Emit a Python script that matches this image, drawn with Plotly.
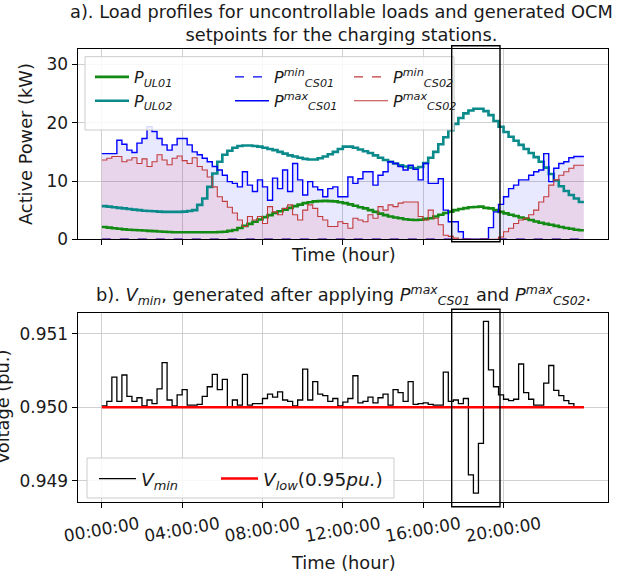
import plotly.graph_objects as go

# ---------------- data (15-min resolution, 96 steps) ----------------
STEP_H = 0.25
P_UL01 = [2.1, 2.0, 1.9, 1.8, 1.7, 1.65, 1.6, 1.55, 1.5, 1.45, 1.4, 1.35,
          1.3, 1.25, 1.2, 1.2, 1.2, 1.2, 1.2, 1.2, 1.2, 1.2, 1.2, 1.25,
          1.3, 1.45, 1.6, 1.95, 2.3, 2.65, 3.0, 3.4, 3.8, 4.15, 4.5, 4.8,
          5.1, 5.4, 5.7, 5.95, 6.2, 6.35, 6.5, 6.55, 6.6, 6.55, 6.5, 6.35,
          6.2, 6.0, 5.75, 5.5, 5.3, 5.0, 4.7, 4.4, 4.15, 3.9, 3.75, 3.6,
          3.45, 3.35, 3.3, 3.35, 3.5, 3.6, 3.9, 4.2, 4.5, 4.75, 5.0, 5.2,
          5.35, 5.5, 5.55, 5.6, 5.4, 5.3, 5.0, 4.7, 4.45, 4.2, 4.0, 3.75,
          3.55, 3.3, 3.05, 2.85, 2.65, 2.5, 2.3, 2.1, 1.95, 1.8, 1.65, 1.55]
P_UL02 = [5.7, 5.6, 5.5, 5.4, 5.3, 5.2, 5.1, 5.0, 4.9, 4.85, 4.8, 4.75,
          4.7, 4.7, 4.7, 4.7, 4.75, 4.85, 5.0, 5.9, 7.0, 9.0, 11.3, 13.3,
          14.5, 15.2, 15.7, 16.0, 16.1, 16.1, 16.0, 15.9, 15.7, 15.5, 15.3, 15.0,
          14.7, 14.4, 14.2, 14.0, 13.8, 13.7, 13.7, 13.9, 14.2, 14.6, 15.0, 15.5,
          15.9, 15.9, 15.7, 15.4, 15.1, 14.8, 14.4, 14.0, 13.6, 13.3, 13.0, 12.7,
          12.5, 12.3, 12.2, 12.4, 13.1, 14.0, 15.0, 16.3, 17.5, 18.7, 19.8, 20.8,
          21.6, 22.1, 22.4, 22.4, 22.0, 21.3, 20.3, 19.3, 18.4, 17.6, 16.9, 16.2,
          15.5, 14.8, 14.1, 13.3, 12.3, 11.2, 10.1, 9.1, 8.3, 7.6, 7.0, 6.4]
P_CS01_MAX = [14.7, 14.7, 14.7, 17.0, 16.3, 15.3, 14.9, 16.5, 17.3, 19.3, 18.5, 17.3,
              16.2, 15.3, 16.2, 17.3, 17.3, 16.2, 15.0, 14.5, 13.9, 13.3, 12.5, 11.9,
              11.0, 9.9, 9.6, 9.0, 11.6, 9.3, 8.2, 10.2, 9.0, 6.7, 10.5, 8.7,
              11.9, 8.2, 13.0, 10.2, 7.6, 9.9, 9.0, 8.5, 7.3, 8.7, 9.0, 7.3,
              7.3, 10.7, 9.6, 10.4, 11.6, 11.6, 9.3, 11.0, 11.6, 13.3, 13.0, 12.5,
              11.9, 12.7, 12.0, 10.2, 13.0, 9.6, 9.6, 10.4, 5.0, 3.0, 3.0, 1.3,
              0.0, 0.0, 0.0, 0.0, 0.0, 2.0, 4.7, 6.0, 7.3, 8.7, 9.3, 10.2,
              10.2, 11.0, 11.6, 11.9, 14.7, 9.9, 12.2, 13.0, 13.3, 14.0, 14.2, 14.2]
P_CS02_MAX = [13.6, 13.9, 14.2, 14.2, 13.3, 13.6, 14.0, 13.0, 13.8, 12.5, 13.3, 14.5,
              13.6, 12.8, 13.9, 14.3, 13.5, 13.0, 14.0, 12.5, 11.9, 10.7, 9.0, 7.3,
              6.5, 5.5, 4.5, 3.3, 2.2, 3.9, 3.3, 3.9, 2.7, 5.6, 4.7, 4.2,
              5.3, 5.9, 4.2, 3.3, 5.0, 5.9, 5.3, 3.9, 3.3, 2.2, 2.2, 3.0,
              2.7, 1.9, 3.6, 3.3, 3.0, 4.2, 3.6, 5.6, 5.0, 5.9, 5.6, 6.2,
              6.4, 6.4, 6.4, 3.9, 3.3, 5.0, 3.6, 2.5, 0.7, 0.5, 0.2, 0.0,
              0.0, 0.0, 0.0, 0.0, 0.0, 0.0, 0.0, 0.4, 1.3, 1.9, 2.7, 3.3,
              3.6, 4.2, 5.0, 6.4, 7.3, 9.3, 10.2, 11.0, 11.6, 12.2, 12.7, 12.7]
P_CS01_MIN = [0.0] * 96   # minimum set-points read as zero over the whole day
P_CS02_MIN = [0.0] * 96
V_MIN = [0.95002, 0.95008, 0.95041, 0.95008, 0.95044, 0.95015, 0.95008, 0.95013,
         0.95002, 0.95010, 0.95005, 0.95025, 0.95061, 0.95010, 0.95002, 0.95017,
         0.95024, 0.95003, 0.95003, 0.95004, 0.95015, 0.95028, 0.95045, 0.95024,
         0.95038, 0.95000, 0.95010, 0.95003, 0.95045, 0.95003, 0.95005, 0.95005,
         0.95012, 0.95018, 0.95014, 0.95021, 0.95010, 0.95008, 0.95002, 0.95010,
         0.95052, 0.95010, 0.95035, 0.95018, 0.95016, 0.95008, 0.95012, 0.95002,
         0.95007, 0.95012, 0.95043, 0.95006, 0.95008, 0.95014, 0.95006, 0.95013,
         0.95018, 0.95003, 0.95024, 0.95020, 0.95008, 0.95035, 0.95004, 0.95005,
         0.95006, 0.95004, 0.95003, 0.95003, 0.95048, 0.95008, 0.95010, 0.95005,
         0.95012, 0.94908, 0.94883, 0.94951, 0.95117, 0.95051, 0.95028, 0.95017,
         0.95011, 0.95009, 0.95011, 0.95059, 0.95020, 0.95011, 0.95003, 0.95003,
         0.95033, 0.95057, 0.95023, 0.95016, 0.95009, 0.95005, 0.95001, 0.95000]
V_LOW = 0.95
DAY_END_H = 24.0
TICK_HOURS = [0, 4, 8, 12, 16, 20]
TICK_LABELS = ["00:00:00", "04:00:00", "08:00:00", "12:00:00", "16:00:00", "20:00:00"]
P_TICKS = [0, 10, 20, 30]
V_TICKS = [0.949, 0.950, 0.951]

for s in (P_UL01, P_UL02, P_CS01_MAX, P_CS02_MAX, V_MIN):
    assert len(s) == 96

# step series: x at start of each 15-min interval, extended to end of day
X = [i * STEP_H for i in range(len(V_MIN))] + [DAY_END_H]
def ext(v):
    return list(v) + [v[-1]]

# ---------------- layout helpers (pixel -> paper) ----------------
W, H = 633, 575
def px(p):
    return p / W
def py(p):
    return 1 - p / H

FONT = "DejaVu Sans"
TXT = "#1a1a1a"
FS = 17.8      # titles / labels
FT = 17        # tick labels
FL = 16        # top legend
FL2 = 18.5     # bottom legend

fig = go.Figure()

# fills under the max set-points
fig.add_trace(go.Scatter(x=X, y=ext(P_CS01_MAX), mode="lines", line=dict(width=0, shape="hv"),
                         fill="tozeroy", fillcolor="rgba(0,0,255,0.09)", showlegend=False,
                         hoverinfo="skip", xaxis="x", yaxis="y"))
fig.add_trace(go.Scatter(x=X, y=ext(P_CS02_MAX), mode="lines", line=dict(width=0, shape="hv"),
                         fill="tozeroy", fillcolor="rgba(255,0,0,0.08)", showlegend=False,
                         hoverinfo="skip", xaxis="x", yaxis="y"))

# legend column 1
fig.add_trace(go.Scatter(x=X, y=ext(P_UL01), mode="lines", line=dict(color="#138a13", width=2.6, shape="hv"),
                         name="<i>P</i><sub><i>UL01</i></sub>", legend="legend", xaxis="x", yaxis="y"))
fig.add_trace(go.Scatter(x=X, y=ext(P_UL02), mode="lines", line=dict(color="#0a8a8a", width=2.6, shape="hv"),
                         name="<i>P</i><sub><i>UL02</i></sub>", legend="legend", xaxis="x", yaxis="y"))
# legend column 2
fig.add_trace(go.Scatter(x=X, y=ext(P_CS01_MIN), mode="lines",
                         line=dict(color="#0000ff", width=1.4, dash="dash", shape="hv"),
                         name="<i>P</i><sup><i>min</i></sup><sub><i>CS01</i></sub>", legend="legend2",
                         xaxis="x", yaxis="y"))
fig.add_trace(go.Scatter(x=X, y=ext(P_CS01_MAX), mode="lines", line=dict(color="#0000ff", width=1.4, shape="hv"),
                         name="<i>P</i><sup><i>max</i></sup><sub><i>CS01</i></sub>", legend="legend2",
                         xaxis="x", yaxis="y"))
# legend column 3
fig.add_trace(go.Scatter(x=X, y=ext(P_CS02_MIN), mode="lines",
                         line=dict(color="#c23b3b", width=1.1, dash="dash", shape="hv"),
                         name="<i>P</i><sup><i>min</i></sup><sub><i>CS02</i></sub>", legend="legend3",
                         xaxis="x", yaxis="y"))
fig.add_trace(go.Scatter(x=X, y=ext(P_CS02_MAX), mode="lines", line=dict(color="#c23b3b", width=1.1, shape="hv"),
                         name="<i>P</i><sup><i>max</i></sup><sub><i>CS02</i></sub>", legend="legend3",
                         xaxis="x", yaxis="y"))

# bottom panel
fig.add_trace(go.Scatter(x=X, y=ext(V_MIN), mode="lines", line=dict(color="black", width=1.3, shape="hv"),
                         name="<i>V</i><sub><i>min</i></sub>", legend="legend4", xaxis="x2", yaxis="y2"))
fig.add_trace(go.Scatter(x=[0, DAY_END_H], y=[V_LOW, V_LOW], mode="lines", line=dict(color="#ff0000", width=2.6),
                         name="<i>V</i><sub><i>low</i></sub>(0.95<i>pu.</i>)", legend="legend5",
                         xaxis="x2", yaxis="y2"))

XDOM = [px(77.7), px(608)]
axis_common = dict(showline=True, mirror=True, linecolor="black", linewidth=1.2,
                   ticks="outside", ticklen=5, tickwidth=1, tickcolor="black",
                   showgrid=True, gridcolor="#d0d0d0", gridwidth=1, zeroline=False,
                   automargin=False,
                   tickfont=dict(family=FONT, size=FT, color=TXT))

def leg(x, y, size, w):
    return dict(x=px(x), y=py(y), bgcolor="rgba(0,0,0,0)", borderwidth=0, xanchor="left", yanchor="top",
                font=dict(family=FONT, size=size, color=TXT), itemwidth=w, tracegroupgap=0)

fig.update_layout(
    width=W, height=H, margin=dict(l=0, r=0, t=0, b=0, autoexpand=False),
    paper_bgcolor="white", plot_bgcolor="white",
    font=dict(family=FONT, size=FS, color=TXT),
    xaxis=dict(domain=XDOM, range=[-1.2, 25.2], tickvals=TICK_HOURS, showticklabels=False,
               anchor="y", **axis_common),
    yaxis=dict(domain=[py(239.3), py(49.3)], range=[0, 32.6], tickvals=P_TICKS, anchor="x",
               **axis_common),
    xaxis2=dict(domain=XDOM, range=[-1.2, 25.2], tickvals=TICK_HOURS, ticktext=TICK_LABELS,
                tickangle=-10, ticklabelshift=37, anchor="y2", **axis_common),
    yaxis2=dict(domain=[py(502.3), py(312.7)], range=[0.948706, 0.951289], tickvals=V_TICKS,
                ticktext=[f"{v:.3f}" for v in V_TICKS], anchor="x2", **axis_common),
    legend=leg(90, 60, FL, 34),
    legend2=leg(230, 60, FL, 34),
    legend3=leg(349, 60, FL, 34),
    legend4=leg(94, 460, FL2, 37),
    legend5=leg(216, 460, FL2, 37),
    showlegend=True,
)

# legend frames
fig.add_shape(type="rect", xref="paper", yref="paper", x0=px(85), x1=px(454), y0=py(130), y1=py(56.7),
              fillcolor="rgba(255,255,255,0.85)", line=dict(color="#cccccc", width=1), layer="above")
fig.add_shape(type="rect", xref="paper", yref="paper", x0=px(87), x1=px(394), y0=py(498), y1=py(458),
              fillcolor="rgba(255,255,255,0.85)", line=dict(color="#cccccc", width=1), layer="above")

# highlight boxes around the voltage-violation period
fig.add_shape(type="rect", xref="paper", yref="paper", x0=px(451.7), x1=px(500), y0=py(241.7), y1=py(45.7),
              line=dict(color="black", width=1.4), fillcolor="rgba(0,0,0,0)", layer="above")
fig.add_shape(type="rect", xref="paper", yref="paper", x0=px(451.7), x1=px(500), y0=py(506.7), y1=py(309.3),
              line=dict(color="black", width=1.4), fillcolor="rgba(0,0,0,0)", layer="above")

def note(text, x, y, angle=0, size=FS):
    fig.add_annotation(text=text, xref="paper", yref="paper", x=px(x), y=py(y), showarrow=False,
                       textangle=angle, xanchor="center", yanchor="middle", align="center",
                       font=dict(family=FONT, size=size, color=TXT))

note("a). Load profiles for uncontrollable loads and generated OCM<br>setpoints for the charging stations.", 341, 23.5)
note("Time (hour)", 343, 254)
note("Active Power (kW)", 25, 144, angle=-90)
note("b). <i>V</i><sub><i>min</i></sub>, generated after applying <i>P</i><sup><i>max</i></sup><sub><i>CS01</i></sub>"
     " and <i>P</i><sup><i>max</i></sup><sub><i>CS02</i></sub>.", 343, 295)
note("Time (hour)", 343, 562)
note("Voltage (pu.)", 2, 407, angle=-90)

# place the figure at the page's top-left corner (no default body margin), no mode bar
fig.write_html("out.html", config={"displayModeBar": False},
               post_script="document.body.style.margin='0px';document.body.style.overflow='hidden';")
